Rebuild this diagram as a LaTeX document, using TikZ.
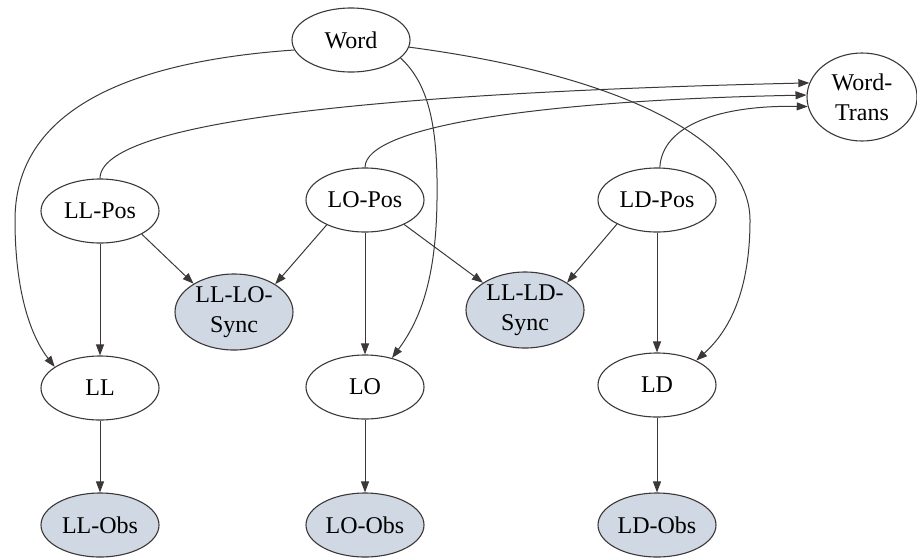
\documentclass[tikz,border=0pt]{standalone}
\usepackage{fontspec}
\setmainfont{Liberation Serif}
\usetikzlibrary{shapes.geometric,arrows.meta}
\definecolor{obsfill}{RGB}{207,216,227}
\definecolor{linecol}{RGB}{60,56,56}
\begin{document}
\begin{tikzpicture}[x=1pt,y=-1pt,
  nd/.style={ellipse,draw=linecol,line width=1.1pt,inner sep=0pt,
    minimum width=118pt,minimum height=64pt,
    font=\fontsize{24}{30}\selectfont,align=center},
  obs/.style={nd,fill=obsfill},
  tall/.style={minimum height=76pt},
  conn/.style={draw=linecol,line width=1pt,-{Triangle[length=11pt,width=8pt]}}]
\useasboundingbox (0,0) rectangle (917,558);
% nodes
\node[nd] (word) at (351,40) {Word};
\node[nd,minimum width=110pt,minimum height=88pt] (wt) at (862,97) {Word-\\Trans};
\node[nd] (llpos) at (100,211) {LL-Pos};
\node[nd] (lopos) at (365,200) {LO-Pos};
\node[nd] (ldpos) at (657,200) {LD-Pos};
\node[obs,tall] (lllo) at (234,312) {LL-LO-\\Sync};
\node[obs,tall] (llld) at (525,310) {LL-LD-\\Sync};
\node[nd] (ll) at (100,388) {LL};
\node[nd] (lo) at (365,387) {LO};
\node[nd] (ld) at (657,385) {LD};
\node[obs] (llobs) at (100,525) {LL-Obs};
\node[obs] (loobs) at (365,525) {LO-Obs};
\node[obs] (ldobs) at (657,525) {LD-Obs};
% Word edges
\draw[conn] (word.190) .. controls (150,60) and (15,100) .. (15,220)
  .. controls (15,290) and (30,335) .. (ll.155);
\draw[conn] (word.-20) .. controls (430,85) and (438,130) .. (437,200)
  .. controls (436,280) and (420,320) .. (lo.47);
\draw[conn] (word.-7) .. controls (620,75) and (750,140) .. (750,220)
  .. controls (750,290) and (730,330) .. (ld.32);
% to Word-Trans
\draw[conn] (llpos.north) .. controls (100,110) and (500,90) .. (wt.165);
\draw[conn] (lopos.north) .. controls (365,125) and (550,100) .. (wt.178);
\draw[conn] (ldpos.85) .. controls (662,125) and (720,105) .. (wt.190);
% sync edges
\draw[conn] (llpos.-29) -- (lllo.145);
\draw[conn] (lopos.213) -- (lllo.34);
\draw[conn] (lopos.-32) -- (llld.147);
\draw[conn] (ldpos.211) -- (llld.33);
% verticals
\draw[conn] (llpos) -- (ll);
\draw[conn] (lopos) -- (lo);
\draw[conn] (ldpos) -- (ld);
\draw[conn] (ll) -- (llobs);
\draw[conn] (lo) -- (loobs);
\draw[conn] (ld) -- (ldobs);
\end{tikzpicture}
\end{document}
